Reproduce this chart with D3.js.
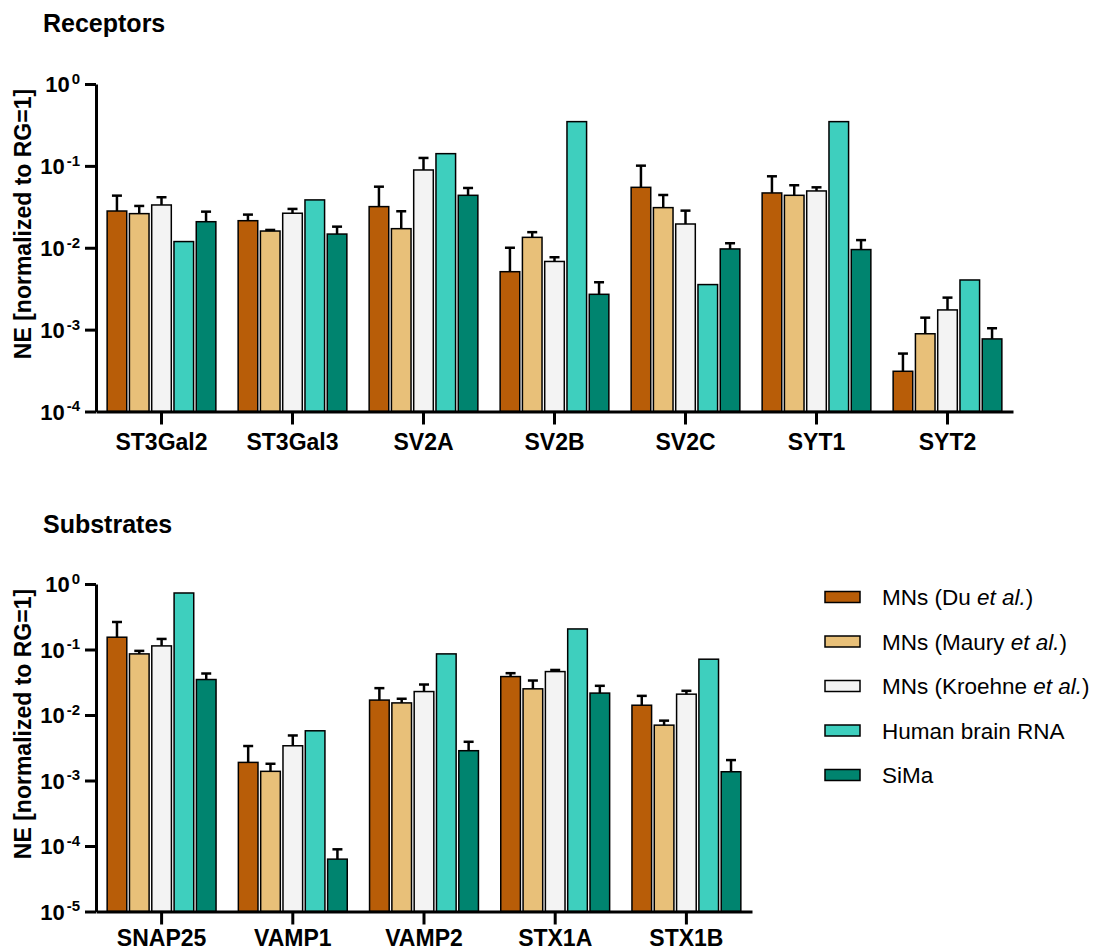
<!DOCTYPE html>
<html>
<meta charset="utf-8">
<style>

body {
  margin: 0;
  background: #fff;
  font-family: "Liberation Sans", Arial, sans-serif;
}

.axis path,
.axis line {
  fill: none;
  stroke: #000;
  stroke-width: 3px;
}

.bar {
  stroke: #000;
  stroke-width: 1.5px;
}

.err {
  stroke: #000;
  stroke-width: 2.5px;
  fill: none;
}

.title {
  font-size: 25px;
  font-weight: bold;
}

.ylabel {
  font-size: 23px;
  font-weight: bold;
}

.tick-label {
  font-size: 22px;
  font-weight: bold;
}

.cat-label {
  font-size: 23px;
  font-weight: bold;
}

.legend text {
  font-size: 22.5px;
}

</style>
<body>
<script src="https://d3js.org/d3.v7.min.js"></script>
<script>

var series = ["MNs (Du et al.)", "MNs (Maury et al.)", "MNs (Kroehne et al.)", "Human brain RNA", "SiMa"];
var colors = ["#b85d08", "#e8c079", "#f3f3f3", "#3ecfbe", "#00846f"];

// Receptors panel
var receptorGenes = ["ST3Gal2", "ST3Gal3", "SV2A", "SV2B", "SV2C", "SYT1", "SYT2"];
var recDu        = [0.0281, 0.0214, 0.0318, 0.0051, 0.0547, 0.0467, 0.00031];
var recDuHi      = [0.0433, 0.0254, 0.0557, 0.0100, 0.1006, 0.0746, 0.00051];
var recMaury     = [0.0261, 0.0160, 0.0171, 0.0134, 0.0309, 0.0437, 0.00089];
var recMauryHi   = [0.0324, 0.0165, 0.0279, 0.0155, 0.0441, 0.0580, 0.00140];
var recKroehne   = [0.0333, 0.0264, 0.0891, 0.0068, 0.0195, 0.0494, 0.00174];
var recKroehneHi = [0.0414, 0.0298, 0.1250, 0.00766, 0.0284, 0.0547, 0.00246];
var recBrain     = [0.0119, 0.0384, 0.141, 0.347, 0.00355, 0.347, 0.00404];
var recSima      = [0.0208, 0.0147, 0.0437, 0.0027, 0.00967, 0.0095, 0.00077];
var recSimaHi    = [0.0276, 0.0181, 0.0537, 0.00379, 0.01135, 0.0124, 0.00104];

// Substrates panel
var substrateGenes = ["SNAP25", "VAMP1", "VAMP2", "STX1A", "STX1B"];
var subDu        = [0.154, 0.00189, 0.0169, 0.0386, 0.0141];
var subDuHi      = [0.263, 0.00336, 0.0257, 0.0435, 0.0196];
var subMaury     = [0.0857, 0.00138, 0.0153, 0.0251, 0.0070];
var subMauryHi   = [0.0953, 0.00180, 0.0177, 0.0336, 0.0082];
var subKroehne   = [0.1135, 0.00339, 0.0228, 0.0460, 0.0208];
var subKroehneHi = [0.145, 0.00487, 0.0292, 0.0487, 0.0234];
var subBrain     = [0.729, 0.00574, 0.0857, 0.206, 0.0711];
var subSima      = [0.0348, 0.000063, 0.00285, 0.0216, 0.00136];
var subSimaHi    = [0.0430, 0.000089, 0.0039, 0.0279, 0.00205];

var recTicks = [1, 1e-1, 1e-2, 1e-3, 1e-4];
var subTicks = [1, 1e-1, 1e-2, 1e-3, 1e-4, 1e-5];

var svg = d3.select("body").append("svg")
    .attr("width", 1101)
    .attr("height", 952);

function rows(genes, vals, his) {
  return genes.map(function(g, i) {
    return {
      gene: g,
      values: vals.map(function(v, k) {
        return {key: series[k], k: k, value: v[i], hi: his[k] ? his[k][i] : null};
      })
    };
  });
}

function panel(opts) {
  var data = rows(opts.genes, opts.vals, opts.his);

  var x = d3.scaleBand()
      .domain(opts.genes)
      .range([opts.left, opts.left + opts.step * opts.genes.length]);

  var x1 = d3.scaleBand()
      .domain(series)
      .range([0, x.bandwidth()])
      .paddingInner(0.12)
      .paddingOuter(0.5);

  var y = d3.scaleLog()
      .domain(opts.domain)
      .range([opts.bottom, opts.top]);

  svg.append("text")
      .attr("class", "title")
      .attr("x", 43)
      .attr("y", opts.titleY)
      .text(opts.title);

  var groups = svg.append("g").selectAll("g")
    .data(data)
    .enter().append("g")
      .attr("transform", function(d) { return "translate(" + x(d.gene) + ",0)"; });

  groups.selectAll("rect")
    .data(function(d) { return d.values; })
    .enter().append("rect")
      .attr("class", "bar")
      .attr("x", function(d) { return x1(d.key); })
      .attr("width", x1.bandwidth())
      .attr("y", function(d) { return y(d.value); })
      .attr("height", function(d) { return opts.bottom - y(d.value); })
      .attr("fill", function(d) { return colors[d.k]; });

  var errs = groups.selectAll("g.errbar")
    .data(function(d) { return d.values.filter(function(v) { return v.hi != null; }); })
    .enter().append("g")
      .attr("class", "errbar");

  errs.append("line")
      .attr("class", "err")
      .attr("x1", function(d) { return x1(d.key) + x1.bandwidth() / 2; })
      .attr("x2", function(d) { return x1(d.key) + x1.bandwidth() / 2; })
      .attr("y1", function(d) { return y(d.value); })
      .attr("y2", function(d) { return y(d.hi); });

  errs.append("line")
      .attr("class", "err")
      .attr("x1", function(d) { return x1(d.key) + x1.bandwidth() / 2 - 5; })
      .attr("x2", function(d) { return x1(d.key) + x1.bandwidth() / 2 + 5; })
      .attr("y1", function(d) { return y(d.hi); })
      .attr("y2", function(d) { return y(d.hi); });

  // y axis
  var yAxis = svg.append("g")
      .attr("class", "axis")
      .attr("transform", "translate(" + opts.left + ",0)")
      .call(d3.axisLeft(y).tickValues(opts.ticks).tickSize(11).tickSizeOuter(0).tickFormat(""));

  yAxis.selectAll(".tick").append("text")
      .attr("class", "tick-label")
      .attr("x", -16)
      .attr("dy", "0.35em")
      .attr("text-anchor", "end")
      .attr("fill", "#000")
      .each(function(d) {
        var t = d3.select(this);
        t.append("tspan").text("10");
        t.append("tspan")
            .attr("dy", "-0.55em")
            .attr("dx", "2")
            .style("font-size", "15px")
            .text(String(Math.round(Math.log10(d))));
      });

  // x axis
  var xAxis = svg.append("g")
      .attr("class", "axis")
      .attr("transform", "translate(0," + opts.bottom + ")")
      .call(d3.axisBottom(x).tickSize(13).tickSizeOuter(0));

  xAxis.selectAll(".tick text")
      .attr("class", "cat-label")
      .attr("y", opts.catY)
      .attr("dy", "0.71em")
      .attr("fill", "#000")
      .style("font-family", "'Liberation Sans', Arial, sans-serif");

  svg.append("text")
      .attr("class", "ylabel")
      .attr("transform", "translate(31," + opts.labelY + ") rotate(-90)")
      .attr("text-anchor", "middle")
      .text("NE [normalized to RG=1]");
}

panel({
  title: "Receptors",
  titleY: 32,
  genes: receptorGenes,
  vals: [recDu, recMaury, recKroehne, recBrain, recSima],
  his: [recDuHi, recMauryHi, recKroehneHi, null, recSimaHi],
  domain: [1e-4, 1],
  ticks: recTicks,
  left: 96,
  step: 131,
  top: 84,
  bottom: 411.5,
  catY: 22,
  labelY: 224
});

panel({
  title: "Substrates",
  titleY: 533,
  genes: substrateGenes,
  vals: [subDu, subMaury, subKroehne, subBrain, subSima],
  his: [subDuHi, subMauryHi, subKroehneHi, null, subSimaHi],
  domain: [1e-5, 1],
  ticks: subTicks,
  left: 96,
  step: 131.2,
  top: 584,
  bottom: 911.5,
  catY: 18,
  labelY: 724
});

// legend
var legend = svg.append("g")
    .attr("class", "legend")
    .attr("transform", "translate(825,597)");

var item = legend.selectAll("g")
    .data(series)
  .enter().append("g")
    .attr("transform", function(d, i) { return "translate(0," + (i * 44.5) + ")"; });

item.append("rect")
    .attr("class", "bar")
    .attr("y", -5.5)
    .attr("width", 35)
    .attr("height", 11)
    .attr("fill", function(d, i) { return colors[i]; });

item.append("text")
    .attr("x", 57)
    .attr("dy", "0.36em")
    .each(function(d) {
      var t = d3.select(this);
      var parts = d.split("et al.");
      t.append("tspan").text(parts[0]);
      if (parts.length > 1) {
        t.append("tspan").style("font-style", "italic").text("et al.");
        t.append("tspan").text(parts[1]);
      }
    });

</script>
</body>
</html>
